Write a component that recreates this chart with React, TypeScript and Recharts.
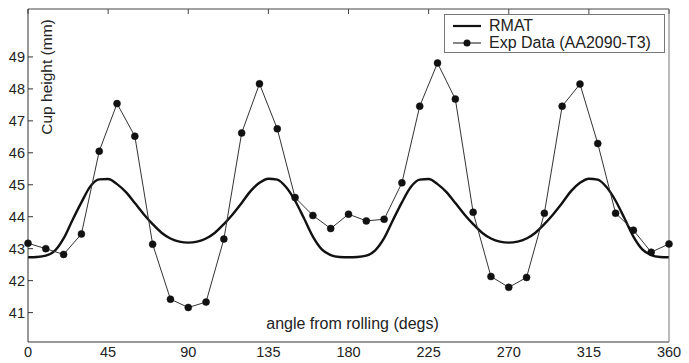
import React from "react";
import { LineChart, Line, XAxis, YAxis, Legend, Label } from "recharts";

// x categories (degrees from rolling direction)
const rmatAngles = [
  0, 5, 10, 15, 20, 25, 30, 35, 40, 45, 50, 55, 60, 65, 70, 75, 80, 85, 90,
  95, 100, 105, 110, 115, 120, 125, 130, 135, 140, 145, 150, 155, 160, 165, 170, 175, 180,
  185, 190, 195, 200, 205, 210, 215, 220, 225, 230, 235, 240, 245, 250, 255, 260, 265, 270,
  275, 280, 285, 290, 295, 300, 305, 310, 315, 320, 325, 330, 335, 340, 345, 350, 355, 360,
];
const rmatValues = [
  42.73, 42.74, 42.78, 42.93, 43.32, 43.9, 44.45, 44.95, 45.17, 45.18, 45.02, 44.77, 44.43, 44.08, 43.77, 43.5, 43.32, 43.22, 43.19,
  43.22, 43.32, 43.5, 43.77, 44.08, 44.43, 44.8, 45.06, 45.19, 45.16, 44.92, 44.5, 43.95, 43.38, 42.98, 42.8, 42.74, 42.73,
  42.74, 42.78, 42.95, 43.33, 43.9, 44.45, 44.93, 45.16, 45.18, 45.02, 44.77, 44.43, 44.08, 43.77, 43.5, 43.32, 43.22, 43.19,
  43.22, 43.32, 43.5, 43.77, 44.08, 44.43, 44.8, 45.06, 45.19, 45.16, 44.92, 44.5, 43.95, 43.38, 42.98, 42.8, 42.74, 42.73,
];
const expAngles = [
  0, 10, 20, 30, 40, 50, 60, 70, 80, 90, 100, 110, 120, 130, 140, 150, 160, 170, 180,
  190, 200, 210, 220, 230, 240, 250, 260, 270, 280, 290, 300, 310, 320, 330, 340, 350, 360,
];
const expValues = [
  43.17, 43.0, 42.82, 43.46, 46.05, 47.54, 46.52, 43.14, 41.42, 41.16, 41.33, 43.3, 46.62, 48.16, 46.75, 44.6, 44.04, 43.63, 44.08,
  43.87, 43.92, 45.06, 47.46, 48.81, 47.68, 44.14, 42.13, 41.79, 42.1, 44.11, 47.46, 48.15, 46.29, 44.11, 43.58, 42.89, 43.15,
];
const xTicks = [0, 45, 90, 135, 180, 225, 270, 315, 360];
const yTicks = [41, 42, 43, 44, 45, 46, 47, 48, 49];
const seriesNames = ["RMAT", "Exp Data (AA2090-T3)"];
const xLabel = "angle from rolling (degs)";
const yLabel = "Cup height (mm)";

const data = rmatAngles.map((a, i) => {
  const j = expAngles.indexOf(a);
  return { angle: a, rmat: rmatValues[i], exp: j >= 0 ? expValues[j] : null };
});

const FONT = "'Liberation Sans', Arial, Helvetica, sans-serif";
const TXT = "#222";

const LegendBox = () => {
  return (
    <div
      style={{
        width: 221,
        height: 39,
        boxSizing: "border-box",
        border: "1px solid #777",
        background: "#fff",
        fontFamily: FONT,
        fontSize: 16,
        color: TXT,
        position: "relative",
      }}
    >
      {seriesNames.map((name, i) => (
        <div key={i} style={{ position: "absolute", left: 0, top: i === 0 ? 2 : 19, height: 17, width: 219 }}>
          <svg width={40} height={17} style={{ position: "absolute", left: 0, top: 0 }}>
            <line x1={8} x2={36} y1={9} y2={9} stroke="#111" strokeWidth={i === 0 ? 2.2 : 1} />
            {i === 1 && <circle cx={22} cy={9} r={3.5} fill="#111" />}
          </svg>
          <span style={{ position: "absolute", left: 44, top: 0, lineHeight: "17px", whiteSpace: "nowrap" }}>
            {name}
          </span>
        </div>
      ))}
    </div>
  );
};

export default function App() {
  return (
    <div style={{ position: "absolute", left: 0, top: 0, background: "#fff" }}>
      <LineChart
        width={689}
        height={363}
        data={data}
        margin={{ top: 8, right: 19, bottom: 0, left: 0 }}
      >
        <XAxis
          xAxisId="b"
          dataKey="angle"
          type="number"
          domain={[0, 360]}
          ticks={xTicks}
          height={21}
          tickLine={false}
          tickSize={0}
          tickMargin={5}
          axisLine={{ stroke: "#333", strokeWidth: 1 }}
          tick={{ fill: TXT, fontSize: 14.5, fontFamily: FONT }}
        >
          <Label
            content={(p: any) => {
              const vb = p.viewBox || { x: 28, y: 342, width: 641 };
              return (
                <text
                  x={vb.x + vb.width / 2 + 4}
                  y={vb.y - 13}
                  textAnchor="middle"
                  fill={TXT}
                  fontSize={16}
                  fontFamily={FONT}
                >
                  {xLabel}
                </text>
              );
            }}
          />
        </XAxis>
        <XAxis
          xAxisId="t"
          dataKey="angle"
          type="number"
          orientation="top"
          domain={[0, 360]}
          ticks={xTicks}
          height={1}
          tickSize={-5}
          tickFormatter={() => ""}
          axisLine={{ stroke: "#444", strokeWidth: 1 }}
          tickLine={{ stroke: "#444" }}
        />
        <YAxis
          yAxisId="l"
          type="number"
          domain={[40.08, 50.5]}
          ticks={yTicks}
          width={28}
          tickSize={-5}
          tickMargin={8}
          axisLine={{ stroke: "#333", strokeWidth: 1 }}
          tickLine={{ stroke: "#333" }}
          tick={{ fill: TXT, fontSize: 14.5, fontFamily: FONT }}
        >
          <Label
            content={(p: any) => {
              const vb = p.viewBox || { x: 0, y: 9, width: 28 };
              const cx = vb.x + vb.width + 18;
              const cy = vb.y + 68;
              return (
                <text
                  x={cx}
                  y={cy}
                  transform={`rotate(-90 ${cx} ${cy})`}
                  textAnchor="middle"
                  dominantBaseline="central"
                  fill={TXT}
                  fontSize={15.5}
                  fontFamily={FONT}
                >
                  {yLabel}
                </text>
              );
            }}
          />
        </YAxis>
        <YAxis
          yAxisId="r"
          orientation="right"
          type="number"
          domain={[40.08, 50.5]}
          ticks={yTicks}
          width={1}
          tickSize={-5}
          tickFormatter={() => ""}
          axisLine={{ stroke: "#777", strokeWidth: 1 }}
          tickLine={{ stroke: "#777" }}
        />
        <Line
          xAxisId="b"
          yAxisId="l"
          name={seriesNames[0]}
          dataKey="rmat"
          type="monotone"
          stroke="#111"
          strokeWidth={2.4}
          dot={false}
          isAnimationActive={false}
        />
        <Line
          xAxisId="b"
          yAxisId="l"
          name={seriesNames[1]}
          dataKey="exp"
          type="linear"
          stroke="#333"
          strokeWidth={1}
          connectNulls
          dot={{ r: 3.5, fill: "#111", stroke: "#111", strokeWidth: 0.5 }}
          isAnimationActive={false}
        />
        <Legend
          layout="vertical"
          align="center"
          verticalAlign="middle"
          content={<LegendBox />}
          wrapperStyle={{ position: "absolute", left: 444, top: 14, width: 221, height: 39 }}
        />
      </LineChart>
    </div>
  );
}
